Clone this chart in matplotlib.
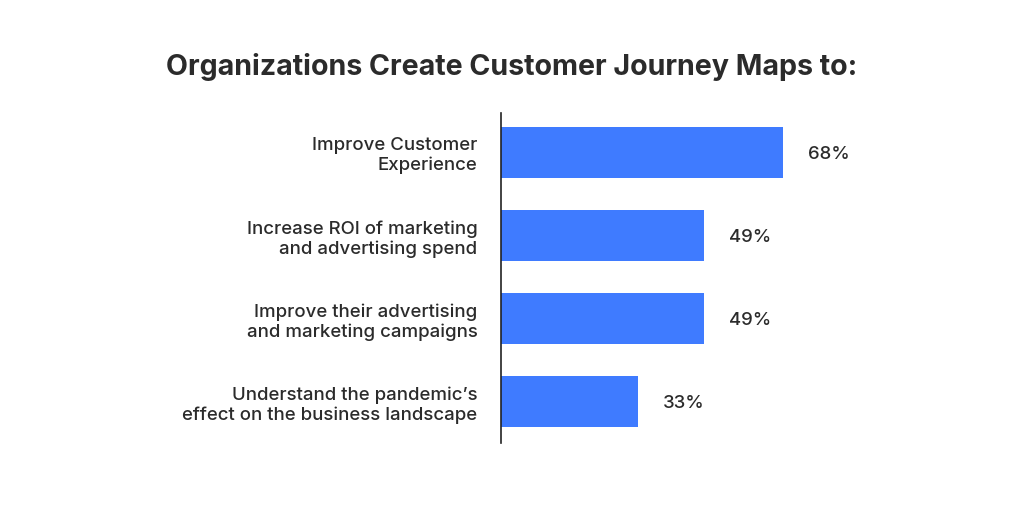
import matplotlib.pyplot as plt

plt.rcParams['font.family'] = ['Inter', 'DejaVu Sans']

# data
categories = [
    "Improve Customer\nExperience",
    "Increase ROI of marketing\nand advertising spend",
    "Improve their advertising\nand marketing campaigns",
    "Understand the pandemic\u2019s\neffect on the business landscape",
]
values = [68, 49, 49, 33]
title = "Organizations Create Customer Journey Maps to:"

bar_color = "#3F7BFF"
text_color = "#2B2B2B"

fig = plt.figure(figsize=(10.24, 5.12), dpi=100)
ax = fig.add_axes([501 / 1024, 69 / 512, 499 / 1024, 330 / 512])

pos = list(range(len(values)))
ax.barh(pos, values, height=0.62, color=bar_color)
ax.set_ylim(3.5, -0.476)
ax.set_xlim(0, 120.2)

for p, v in zip(pos, values):
    ax.annotate(f"{v}%", (v, p), xytext=(18, -1.5), textcoords="offset points",
                va="center", ha="left", fontsize=13.4, fontweight="medium",
                color=text_color)

ax.set_yticks(pos)
ax.set_yticklabels(categories, fontsize=13.4, fontweight="medium",
                   color=text_color, linespacing=1.2)
ax.tick_params(axis="y", length=0, pad=17)
ax.set_xticks([])

for s in ["top", "right", "bottom"]:
    ax.spines[s].set_visible(False)
ax.spines["left"].set_color("#222222")
ax.spines["left"].set_linewidth(1.2)

fig.text(0.5, 1 - 67 / 512, title, ha="center", va="center",
         fontsize=20.6, fontweight="bold", color=text_color)

fig.savefig("out.png", dpi=100, facecolor="white")
